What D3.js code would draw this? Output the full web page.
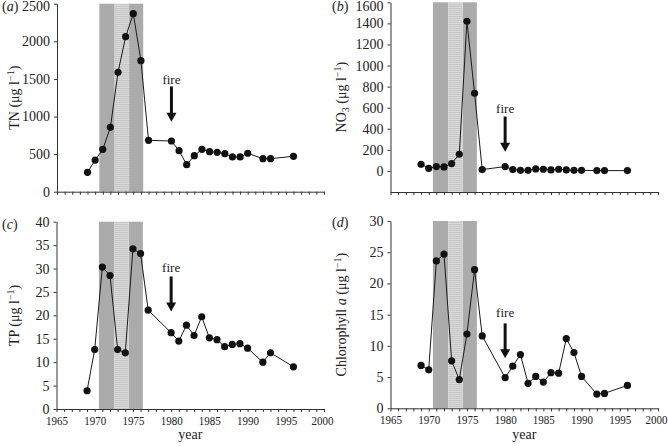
<!DOCTYPE html>
<html><head><meta charset="utf-8">
<script src="https://cdn.jsdelivr.net/npm/d3@7/dist/d3.min.js"></script>
<style>
html,body{margin:0;padding:0;background:#fff;}
svg{display:block;}
text{font-family:"Liberation Serif","Times New Roman",Times,"Nimbus Roman","Tinos",serif;fill:#222;}
</style></head>
<body>
<svg id="chart" width="668" height="446"></svg>
<script>
// ---- data ----
const years = [1969,1970,1971,1972,1973,1974,1975,1976,1977,1980,1981,1982,1983,1984,1985,1986,1987,1988,1989,1990,1992,1993,1996];
const tn   = [257,421,563,856,1588,2062,2368,1743,683,674,545,359,479,564,532,524,506,462,462,511,439,439,471];
const no3  = [63,25,41,38,70,158,1420,737,13,41,13,6,6,19,16,9,16,9,6,6,3,3,3];
const tp   = [3.9,12.7,30.3,28.5,12.7,12.0,34.2,33.2,21.1,16.3,14.5,17.9,15.7,19.7,15.2,14.8,13.3,13.8,13.95,13.0,10.0,12.0,9.0];
const chl  = [6.86,6.17,23.6,24.7,7.6,4.6,11.9,22.2,11.6,4.9,6.75,8.6,4.0,5.1,4.2,5.7,5.63,11.16,8.93,5.1,2.28,2.39,3.67];

const xTicks = d3.range(1965, 2001, 1);
const xLabelTicks = [1965,1970,1975,1980,1985,1990,1995,2000];
const tnTicks  = [0,500,1000,1500,2000,2500];
const no3Ticks = [0,200,400,600,800,1000,1200,1400,1600];
const tpTicks  = [0,5,10,15,20,25,30,35,40];
const chlTicks = [0,5,10,15,20,25,30];

// shaded periods (years)
const darkSpans  = [[1970.55,1972.55],[1974.45,1976.3]];
const lightSpans = [[1972.55,1974.45]];
const fireYear = 1980;

const FS = 14;
const svg = d3.select("#chart");
const defs = svg.append("defs");
const pat = defs.append("pattern").attr("id","stripes").attr("patternUnits","userSpaceOnUse")
  .attr("width",4).attr("height",2);
pat.append("rect").attr("width",4).attr("height",2).attr("fill","#dadada");
pat.append("rect").attr("width",4).attr("height",1).attr("fill","#c6c6c6");

const panels = [
  {label:"(a)", data:tn,  ticks:tnTicks,  dom:[0,2500],    L:57,   R:324, T:3.7,  B:191.7, lx:2,   ly:11,
   fire:[1490,1400,930], title:[{t:"TN (μg l"},{t:"−1",sup:true},{t:")"}], tx:19, showX:false},
  {label:"(b)", data:no3, ticks:no3Ticks, dom:[-200,1600], L:390.5,R:658, T:2.3,  B:192,   lx:332, ly:11,
   fire:[589,516,183], title:[{t:"NO"},{t:"3",sub:true},{t:" (μg l"},{t:"−1",sup:true},{t:")"}], tx:346, showX:false},
  {label:"(c)", data:tp,  ticks:tpTicks,  dom:[0,40],      L:56.5, R:324, T:221.7,B:409,   lx:2,   ly:229,
   fire:[30.2,28.3,20.8], title:[{t:"TP (μg l"},{t:"−1",sup:true},{t:")"}], tx:19, showX:true},
  {label:"(d)", data:chl, ticks:chlTicks, dom:[0,30],      L:390.5,R:658, T:221,  B:408.3, lx:332, ly:227,
   fire:[15.4,13.6,8.0], title:[{t:"Chlorophyll "},{t:"a",it:true},{t:" (μg l"},{t:"−1",sup:true},{t:")"}], tx:346, showX:true}
];

panels.forEach(p => {
  const x = d3.scaleLinear().domain([1965,2000]).range([p.L,p.R]);
  const y = d3.scaleLinear().domain(p.dom).range([p.B,p.T]);
  const g = svg.append("g");

  darkSpans.forEach(s => g.append("rect").attr("x",x(s[0])).attr("width",x(s[1])-x(s[0]))
    .attr("y",p.T).attr("height",p.B-p.T).attr("fill","#ababab"));
  lightSpans.forEach(s => g.append("rect").attr("x",x(s[0])).attr("width",x(s[1])-x(s[0]))
    .attr("y",p.T).attr("height",p.B-p.T).attr("fill","url(#stripes)"));

  const ya = d3.axisLeft(y).tickValues(p.ticks).tickSize(3).tickPadding(4).tickSizeOuter(0)
    .tickFormat(d3.format("d"));
  const yg = g.append("g").attr("transform",`translate(${p.L},0)`).call(ya);
  const xa = d3.axisBottom(x).tickValues(xTicks).tickSize(3).tickPadding(3).tickSizeOuter(0)
    .tickFormat(d => (p.showX && xLabelTicks.includes(d)) ? String(d) : "");
  const xg = g.append("g").attr("transform",`translate(0,${p.B})`).call(xa);
  [yg,xg].forEach(a => {
    a.attr("font-family",null);
    a.selectAll("path.domain").attr("stroke","#333").attr("stroke-width",1);
    a.selectAll(".tick line").attr("stroke","#333");
    a.selectAll("text").attr("font-size",FS).attr("fill","#222");
  });
  // keep the topmost y label inside the frame
  yg.selectAll(".tick text").filter(d => y(d) < 6).attr("y", d => 6 - y(d));
  xg.selectAll(".tick text").attr("dy","0.75em").attr("font-size",13.5)
    .each(function(d){
      if (this.textContent) {
        const s = d3.select(this).attr("textLength",22).attr("lengthAdjust","spacingAndGlyphs");
        if (d === 2000) s.attr("x",-2);
      }
    });

  const pts = years.map((yr,i)=>[yr,p.data[i]]);
  g.append("path").datum(pts).attr("fill","none").attr("stroke","#1a1a1a").attr("stroke-width",1)
    .attr("d", d3.line().x(d=>x(d[0])).y(d=>y(d[1])));
  g.selectAll("circle.pt").data(pts).enter().append("circle").attr("class","pt")
    .attr("cx",d=>x(d[0])).attr("cy",d=>y(d[1])).attr("r",3.6).attr("fill","#111");

  const fx = x(fireYear);
  g.append("text").attr("x",fx).attr("y",y(p.fire[0])).attr("dy","0.35em").attr("text-anchor","middle")
    .attr("font-size",13).text("fire");
  const tipY = y(p.fire[2]), topY = y(p.fire[1]);
  g.append("line").attr("x1",fx).attr("x2",fx).attr("y1",topY).attr("y2",tipY-7)
    .attr("stroke","#111").attr("stroke-width",3);
  g.append("path").attr("d",`M${fx-5},${tipY-9} L${fx+5},${tipY-9} L${fx},${tipY} Z`).attr("fill","#111");

  const lt = g.append("text").attr("x",p.lx).attr("y",p.ly).attr("font-size",FS);
  lt.append("tspan").text("(");
  lt.append("tspan").attr("font-style","italic").text(p.label[1]);
  lt.append("tspan").text(")");

  const cy = (p.T+p.B)/2;
  const tt = g.append("text").attr("transform",`translate(${p.tx},${cy}) rotate(-90)`)
    .attr("text-anchor","middle").attr("font-size",FS);
  p.title.forEach((s,i) => {
    const prev = i>0 ? p.title[i-1] : null;
    const ts = tt.append("tspan").text(s.t);
    let dy = 0;
    if (prev && prev.sup) dy += 5;
    if (prev && prev.sub) dy -= 3;
    if (s.sup) { ts.attr("font-size",10); dy -= 5; }
    if (s.sub) { ts.attr("font-size",10); dy += 3; }
    ts.attr("dy",dy);
    if (s.it) ts.attr("font-style","italic");
  });

  if (p.showX) {
    g.append("text").attr("x",(p.L+p.R)/2).attr("y",439).attr("text-anchor","middle")
      .attr("font-size",FS).text("year");
  }
});
</script>
</body></html>
